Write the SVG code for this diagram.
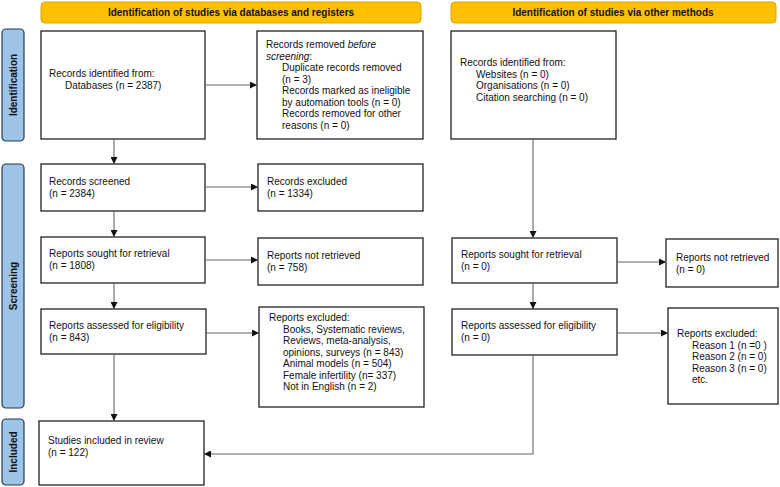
<svg xmlns="http://www.w3.org/2000/svg" width="780" height="487" viewBox="0 0 780 487">
<style>
.hdr{fill:#FFC000;stroke:#D9A300;stroke-width:1}
.side{fill:#9DC3E6;stroke:#1F3B57;stroke-width:1.2}
.box{fill:#fff;stroke:#222;stroke-width:1.3}
text{font-family:"Liberation Sans",Arial,sans-serif;font-size:10px;fill:#111}
.b{font-weight:bold}
.conn{fill:none;stroke:#666;stroke-width:1.1}
</style>
<defs>
<marker id="ah" viewBox="0 0 10 10" refX="10" refY="5" markerWidth="7" markerHeight="7" markerUnits="userSpaceOnUse" orient="auto">
<path d="M0,0 L10,5 L0,10 Z" fill="#111"/>
</marker>
</defs>
<rect width="780" height="487" fill="#fff"/>

<g id="header-left"><rect class="hdr" x="41" y="2" width="380" height="21" rx="4"/><text class="b" x="231" y="16" text-anchor="middle">Identification of studies via databases and registers</text></g>
<g id="header-right"><rect class="hdr" x="451" y="2" width="325" height="21" rx="4"/><text class="b" x="613" y="16" text-anchor="middle">Identification of studies via other methods</text></g>

<g id="side-identification"><rect class="side" x="2" y="29" width="22" height="112" rx="4"/><text class="b" transform="translate(17,85) rotate(-90)" text-anchor="middle">Identification</text></g>
<g id="side-screening"><rect class="side" x="2" y="164" width="22" height="244" rx="4"/><text class="b" transform="translate(17,286) rotate(-90)" text-anchor="middle">Screening</text></g>
<g id="side-included"><rect class="side" x="2" y="419" width="22" height="66" rx="4"/><text class="b" transform="translate(17,452) rotate(-90)" text-anchor="middle">Included</text></g>

<g id="records-identified"><rect class="box" x="41" y="31" width="164" height="108"/>
<text x="49" y="77">Records identified from:</text><text x="65" y="89">Databases (n = 2387)</text></g>

<g id="records-removed"><rect class="box" x="257" y="31" width="166" height="108"/>
<text x="266" y="48">Records removed <tspan font-style="italic">before</tspan></text>
<text x="266" y="59.5"><tspan font-style="italic">screening</tspan>:</text>
<text x="282" y="71">Duplicate records removed</text>
<text x="282" y="82.5">(n = 3)</text>
<text x="282" y="94">Records marked as ineligible</text>
<text x="282" y="105.5">by automation tools (n = 0)</text>
<text x="282" y="117">Records removed for other</text>
<text x="282" y="128.5">reasons (n = 0)</text></g>

<g id="other-identified"><rect class="box" x="451" y="31" width="165" height="108"/>
<text x="460" y="66">Records identified from:</text>
<text x="476" y="77.5">Websites (n = 0)</text>
<text x="476" y="89">Organisations (n = 0)</text>
<text x="476" y="100.5">Citation searching (n = 0)</text></g>

<g id="records-screened"><rect class="box" x="41" y="164" width="164" height="47"/>
<text x="49" y="185">Records screened</text><text x="49" y="196.5">(n = 2384)</text></g>

<g id="records-excluded"><rect class="box" x="258" y="164" width="165" height="47"/>
<text x="267" y="185">Records excluded</text><text x="267" y="196.5">(n = 1334)</text></g>

<g id="reports-sought"><rect class="box" x="41" y="237" width="164" height="46"/>
<text x="49" y="257">Reports sought for retrieval</text><text x="49" y="268.5">(n = 1808)</text></g>

<g id="reports-not-retrieved"><rect class="box" x="258" y="238" width="165" height="47"/>
<text x="267" y="259">Reports not retrieved</text><text x="267" y="270.5">(n = 758)</text></g>

<g id="other-sought"><rect class="box" x="452" y="238" width="165" height="45"/>
<text x="461" y="258">Reports sought for retrieval</text><text x="461" y="269.5">(n = 0)</text></g>

<g id="other-not-retrieved"><rect class="box" x="666" y="239" width="112" height="48"/>
<text x="676" y="261">Reports not retrieved</text><text x="676" y="272.5">(n = 0)</text></g>

<g id="reports-assessed"><rect class="box" x="41" y="309" width="165" height="45"/>
<text x="49" y="329">Reports assessed for eligibility</text><text x="49" y="340.5">(n = 843)</text></g>

<g id="reports-excluded"><rect class="box" x="259" y="307" width="165" height="100"/>
<text x="269" y="321">Reports excluded:</text>
<text x="283" y="332.5">Books, Systematic reviews,</text>
<text x="283" y="344">Reviews, meta-analysis,</text>
<text x="283" y="355.5">opinions, surveys (n = 843)</text>
<text x="283" y="367">Animal models (n = 504)</text>
<text x="283" y="378.5">Female infertility (n= 337)</text>
<text x="283" y="390">Not in English (n = 2)</text></g>

<g id="other-assessed"><rect class="box" x="452" y="309" width="165" height="46"/>
<text x="461" y="329">Reports assessed for eligibility</text><text x="461" y="340.5">(n = 0)</text></g>

<g id="other-excluded"><rect class="box" x="668" y="308" width="110" height="96"/>
<text x="677" y="337">Reports excluded:</text>
<text x="692" y="348.5">Reason 1 (n =0 )</text>
<text x="692" y="360">Reason 2 (n = 0)</text>
<text x="692" y="371.5">Reason 3 (n = 0)</text>
<text x="692" y="383">etc.</text></g>

<g id="studies-included"><rect class="box" x="39" y="421" width="165" height="64"/>
<text x="48" y="444">Studies included in review</text><text x="48" y="455.5">(n = 122)</text></g>

<g id="connectors">
<line class="conn" x1="205" y1="85" x2="257" y2="85" marker-end="url(#ah)"/>
<line class="conn" x1="114" y1="139" x2="114" y2="164" marker-end="url(#ah)"/>
<line class="conn" x1="205" y1="187" x2="258" y2="187" marker-end="url(#ah)"/>
<line class="conn" x1="114" y1="211" x2="114" y2="237" marker-end="url(#ah)"/>
<line class="conn" x1="205" y1="260" x2="258" y2="260" marker-end="url(#ah)"/>
<line class="conn" x1="114" y1="283" x2="114" y2="309" marker-end="url(#ah)"/>
<line class="conn" x1="206" y1="333" x2="259" y2="333" marker-end="url(#ah)"/>
<line class="conn" x1="114" y1="354" x2="114" y2="421" marker-end="url(#ah)"/>
<line class="conn" x1="533" y1="139" x2="533" y2="238" marker-end="url(#ah)"/>
<line class="conn" x1="617" y1="262" x2="666" y2="262" marker-end="url(#ah)"/>
<line class="conn" x1="533" y1="283" x2="533" y2="309" marker-end="url(#ah)"/>
<line class="conn" x1="617" y1="333" x2="668" y2="333" marker-end="url(#ah)"/>
<polyline class="conn" points="533,355 533,454 204,454" marker-end="url(#ah)"/>
</g>
</svg>
